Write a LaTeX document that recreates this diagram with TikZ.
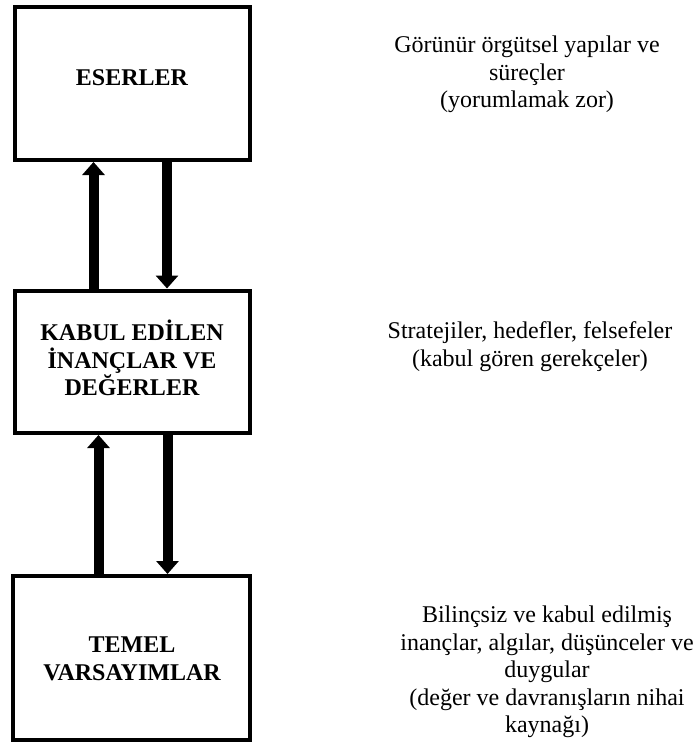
\documentclass[tikz,border=0pt]{standalone}
\usepackage{fontspec}
\setmainfont{Liberation Serif}
\usetikzlibrary{arrows.meta}
\begin{document}
\begin{tikzpicture}[x=1pt,y=1pt,
  box/.style={draw=black, line width=4pt, fill=white, inner sep=0pt},
  lbl/.style={font=\fontsize{24}{27.5}\selectfont\bfseries, align=center, inner sep=0pt},
  note/.style={font=\fontsize{24}{27.5}\selectfont, align=center, inner sep=0pt},
  flow/.style={line width=10pt, -{Triangle[width=22pt,length=13pt]}}]
\useasboundingbox (0,0) rectangle (698,-742);
\fill[white] (0,0) rectangle (698,-742);
% boxes
\node[box, minimum width=235.5pt, minimum height=153pt] (art) at (132.25,-83.5) {};
\node[box, minimum width=235.5pt, minimum height=142.5pt] (val) at (132.25,-361.75) {};
\node[box, minimum width=237.5pt, minimum height=164pt] (bas) at (131.25,-658) {};
% box labels
\node[lbl] (artl) at (132,-78) {ESERLER};
\node[lbl] (vall) at (132,-358) {KABUL EDİLEN\\İNANÇLAR VE\\DEĞERLER};
\node[lbl] (basl) at (132,-659) {TEMEL\\VARSAYIMLAR};
% notes
\node[note] (artn) at (527,-74.5) {Görünür örgütsel yapılar ve\\süreçler\\(yorumlamak zor)};
\node[note] (valn) at (530,-346.5) {Stratejiler, hedefler, felsefeler\\(kabul gören gerekçeler)};
\node[note] (basn) at (547,-672) {Bilinçsiz ve kabul edilmiş\\inançlar, algılar, düşünceler ve\\duygular\\(değer ve davranışların nihai\\kaynağı)};
% arrow x positions
\coordinate (x1) at (93.5,0);
\coordinate (x2) at (167,0);
\coordinate (x3) at (98.5,0);
\coordinate (x4) at (167.5,0);
\draw[flow] (val.north -| x1) -- (art.south -| x1);
\draw[flow] (art.south -| x2) -- (val.north -| x2);
\draw[flow] (bas.north -| x3) -- (val.south -| x3);
\draw[flow] (val.south -| x4) -- (bas.north -| x4);
\end{tikzpicture}
\end{document}
